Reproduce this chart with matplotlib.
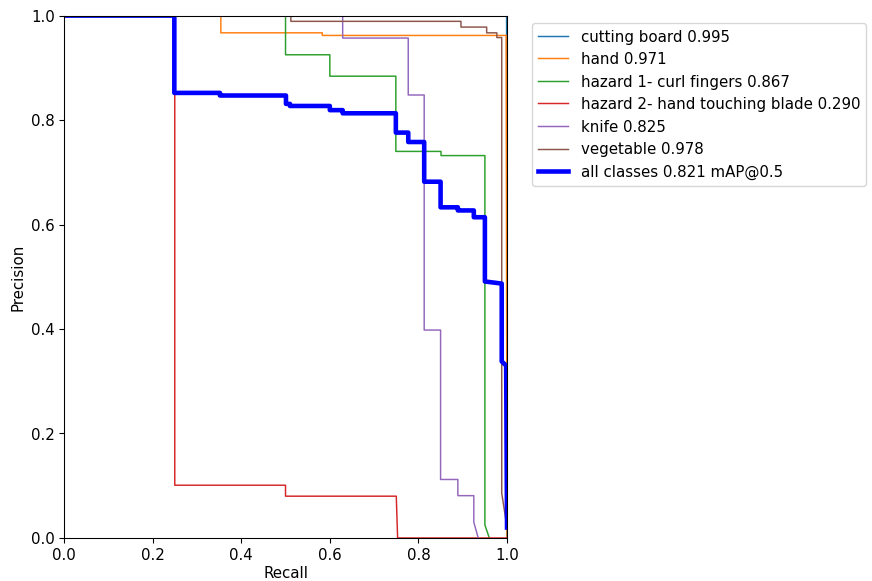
import matplotlib
matplotlib.use("Agg")
import matplotlib.pyplot as plt

# PR curve vertices (recall, precision)
names = ["cutting board", "hand", "hazard 1- curl fingers",
         "hazard 2- hand touching blade", "knife", "vegetable"]
ap50 = [0.995, 0.971, 0.867, 0.290, 0.825, 0.978]

r_board = [0.0, 0.999, 1.0]
p_board = [1.0, 1.0, 0.0]

r_hand = [0.0, 0.354, 0.354, 0.583, 0.583, 0.998, 1.0]
p_hand = [1.0, 1.0, 0.967, 0.967, 0.962, 0.962, 0.0]

r_curl = [0.0, 0.5, 0.5, 0.6, 0.6, 0.749, 0.749, 0.851, 0.851, 0.950, 0.950, 0.960]
p_curl = [1.0, 1.0, 0.925, 0.925, 0.884, 0.884, 0.740, 0.740, 0.732, 0.732, 0.025, 0.0]

r_blade = [0.0, 0.25, 0.25, 0.5, 0.5, 0.75, 0.753, 1.0]
p_blade = [1.0, 1.0, 0.101, 0.101, 0.080, 0.080, 0.0, 0.0]

r_knife = [0.0, 0.629, 0.629, 0.777, 0.777, 0.813, 0.813, 0.850, 0.850, 0.889, 0.889, 0.925, 0.925, 0.935]
p_knife = [1.0, 1.0, 0.957, 0.957, 0.848, 0.848, 0.398, 0.398, 0.112, 0.112, 0.081, 0.081, 0.030, 0.0]

r_veg = [0.0, 0.512, 0.512, 0.896, 0.896, 0.954, 0.954, 0.977, 0.977, 0.988, 0.988, 1.0]
p_veg = [1.0, 1.0, 0.989, 0.989, 0.978, 0.978, 0.967, 0.967, 0.958, 0.958, 0.086, 0.02]

r_all = [0.0, 0.249, 0.249, 0.352, 0.352, 0.501, 0.501, 0.510, 0.510, 0.600, 0.600, 0.629, 0.629,
         0.749, 0.749, 0.777, 0.777, 0.813, 0.813, 0.850, 0.850, 0.889, 0.889, 0.925, 0.925,
         0.950, 0.950, 0.988, 0.988, 0.998, 1.0]
p_all = [1.0, 1.0, 0.852, 0.852, 0.847, 0.847, 0.831, 0.831, 0.827, 0.827, 0.819, 0.819, 0.813,
         0.813, 0.776, 0.776, 0.758, 0.758, 0.682, 0.682, 0.633, 0.633, 0.627, 0.627, 0.614,
         0.614, 0.491, 0.487, 0.338, 0.330, 0.02]
map50 = 0.821

curves_r = [r_board, r_hand, r_curl, r_blade, r_knife, r_veg]
curves_p = [p_board, p_hand, p_curl, p_blade, p_knife, p_veg]

plt.rcParams["font.size"] = 11.2

fig = plt.figure(figsize=(9, 6), dpi=96.9)
ax = fig.add_axes([0.0734, 0.074, 0.508, 0.8985])

for i, name in enumerate(names):
    ax.plot(curves_r[i], curves_p[i], linewidth=1.1, label=f"{name} {ap50[i]:.3f}")

ax.plot(r_all, p_all, linewidth=3.4, color="blue", label=f"all classes {map50:.3f} mAP@0.5")

ax.set_xlabel("Recall", labelpad=2.5)
ax.set_ylabel("Precision")
ax.set_xlim(0, 1)
ax.set_ylim(0, 1)
ax.legend(bbox_to_anchor=(1.04, 1), loc="upper left")

fig.savefig("out.png", dpi=96.9)
